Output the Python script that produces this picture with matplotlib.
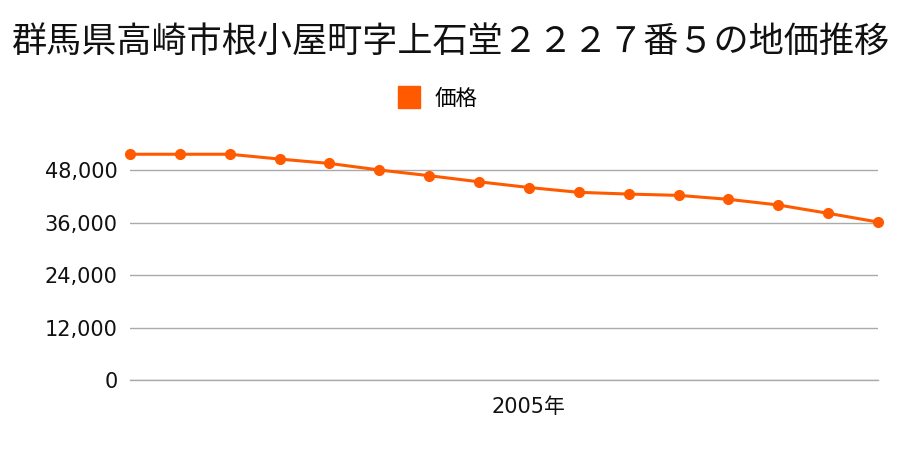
import matplotlib
matplotlib.use("Agg")
import matplotlib.pyplot as plt
from matplotlib.ticker import FuncFormatter

plt.rcParams['font.family'] = ['Noto Sans CJK JP', 'DejaVu Sans']

title = "群馬県高崎市根小屋町字上石堂２２２７番５の地価推移"
series_name = "価格"
years = list(range(1997, 2013))
prices = [51600, 51600, 51600, 50500, 49500, 48000, 46700, 45300,
          44000, 42900, 42500, 42200, 41300, 40000, 38100, 36100]
yticks = [0, 12000, 24000, 36000, 48000]
xtick_years = [2005]
xtick_labels = ["2005年"]

color = "#ff5a00"
tick_family = ['DejaVu Sans', 'Noto Sans CJK JP']

fig = plt.figure(figsize=(9, 4.5), dpi=100)
ax = fig.add_axes([130/900, 1-380/450, (878-130)/900, (380-150)/450])

ax.plot(years, prices, color=color, linewidth=2.2, marker='o', markersize=7,
        clip_on=False, zorder=3, label=series_name)

ax.set_xlim(years[0], years[-1])
ax.set_ylim(0, 230/210*48000)
ax.set_yticks(yticks)
ax.yaxis.set_major_formatter(FuncFormatter(lambda v, p: f"{int(v):,}"))
ax.set_xticks(xtick_years)
ax.set_xticklabels(xtick_labels)
ax.grid(axis='y', color='#aaaaaa', linewidth=1)
ax.axhline(0, color='#aaaaaa', linewidth=1, clip_on=False, zorder=1)
ax.tick_params(axis='both', length=0, labelsize=15, colors='#111111')
ax.tick_params(axis='y', pad=9)
ax.tick_params(axis='x', pad=12)
for lab in ax.get_xticklabels() + ax.get_yticklabels():
    lab.set_family(tick_family)
for s in ax.spines.values():
    s.set_visible(False)
ax.set_axisbelow(True)

fig.text(0.5, 1-42/450, title, ha='center', va='center', fontsize=25.3, color='#111111')

leg = fig.legend(handles=[plt.Line2D([], [], marker='s', linestyle='None', markersize=16,
                                     color=color)],
                 labels=[series_name], loc='center', bbox_to_anchor=(438/900, 1-99/450),
                 frameon=False, fontsize=15.5, handletextpad=0.7, handlelength=1.0)

fig.savefig("out.png", dpi=100)
